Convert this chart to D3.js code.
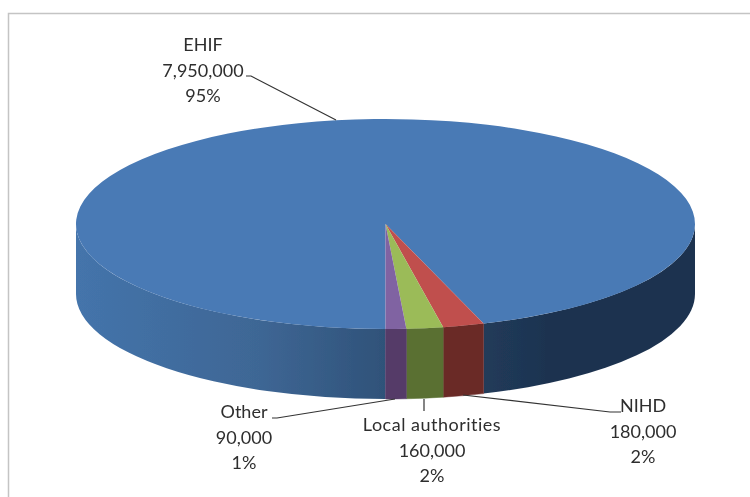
<!DOCTYPE html>
<html>
<head>
<meta charset="utf-8">
<script src="https://cdn.jsdelivr.net/npm/d3@7"></script>
<style>
  html, body { margin: 0; padding: 0; background: #fff; }
  svg { display: block; }
  text { font-family: Lato, "Open Sans", sans-serif; font-size: 18px; fill: #2e2e2e; text-anchor: middle; }
</style>
</head>
<body>
<div id="chart"></div>
<script>
// Chart data
var categories = ["EHIF", "NIHD", "Local authorities", "Other"];
var amounts = [7950000, 180000, 160000, 90000];
var topColors = ["#4a7ab5", "#c0504d", "#9bbb59", "#8064a2"];
var wallColors = ["#2f5279", "#6b2b28", "#5a7033", "#553b68"];

// Label placement: text centre, first line baseline, name tracking, leader line points
var labelSpots = [
  { x: 203, y: 51, track: 0, line: [[246, 76], [251, 76], [336, 120]] },
  { x: 643, y: 412, track: 0, line: [[621, 412], [610, 412], [463, 395]] },
  { x: 432, y: 431, track: 0.5, line: [[424, 399], [424, 411]] },
  { x: 244, y: 418, track: 0, line: [[272, 418], [277, 418], [395, 399]] }
];

var svgWidth = 750;
var svgHeight = 497;

var cx = 385.5;
var cy = 224;
var rx = 309.5;
var ry = 105;
var depth = 70;

var svg = d3.select("#chart")
  .append("svg")
  .attr("width", svgWidth)
  .attr("height", svgHeight);

var defs = svg.append("defs");

// The reference is a slightly soft screenshot
defs.append("filter").attr("id", "soft")
  .attr("x", "-5%").attr("y", "-5%").attr("width", "110%").attr("height", "110%")
  .append("feGaussianBlur").attr("stdDeviation", 0.45);

var textSoft = defs.append("filter").attr("id", "softText")
  .attr("filterUnits", "userSpaceOnUse")
  .attr("x", 0).attr("y", 0).attr("width", svgWidth).attr("height", svgHeight);
textSoft.append("feGaussianBlur").attr("stdDeviation", 0.3);

// Picture frame, only the top and left edges show
svg.append("path")
  .attr("d", "M8.5,497V13.5H750")
  .attr("fill", "none")
  .attr("stroke", "#c4c4c4")
  .attr("stroke-width", 1.5);

// Last slice ends pointing straight down, order runs clockwise
var pie = d3.pie()
  .sort(null)
  .startAngle(-Math.PI)
  .endAngle(Math.PI);

var slices = pie(amounts);

function px(a) { return cx + rx * Math.sin(a); }
function py(a) { return cy - ry * Math.cos(a); }

// Side wall between two angles on the front half of the ellipse
function wallPath(a0, a1) {
  var sweep = a1 > a0 ? 1 : 0;
  return "M" + px(a0) + "," + py(a0)
    + "A" + rx + "," + ry + " 0 0 " + sweep + " " + px(a1) + "," + py(a1)
    + "L" + px(a1) + "," + (py(a1) + depth)
    + "A" + rx + "," + ry + " 0 0 " + (1 - sweep) + " " + px(a0) + "," + (py(a0) + depth)
    + "Z";
}

function wallGradient(id, x0, x1, stops) {
  var g = defs.append("linearGradient")
    .attr("id", id)
    .attr("gradientUnits", "userSpaceOnUse")
    .attr("x1", x0).attr("x2", x1)
    .attr("y1", 0).attr("y2", 0);
  stops.forEach(function(s) {
    g.append("stop").attr("offset", s[0]).attr("stop-color", s[1]);
  });
}

var pieGroup = svg.append("g").attr("filter", "url(#soft)");

var walls = pieGroup.append("g");

// Blue slice wraps round, so its wall is two pieces
wallGradient("wallLeft", px(-Math.PI / 2), cx, [[0, "#4474ab"], [0.6, "#3e6694"], [1, "#2f5279"]]);
wallGradient("wallRight", px(slices[0].endAngle), px(Math.PI / 2), [[0, "#213b5a"], [0.3, "#1d3350"], [1, "#1d3350"]]);

walls.append("path")
  .attr("d", wallPath(-Math.PI / 2, -Math.PI))
  .attr("fill", "url(#wallLeft)");
walls.append("path")
  .attr("d", wallPath(Math.PI / 2, slices[0].endAngle))
  .attr("fill", "url(#wallRight)");

walls.selectAll("path.slice")
  .data(slices.slice(1))
  .enter()
  .append("path")
  .attr("class", "slice")
  .attr("d", d => wallPath(d.startAngle, d.endAngle))
  .attr("fill", d => wallColors[d.index])
  .attr("stroke", d => wallColors[d.index])
  .attr("stroke-width", 0.5);

// Top face is a flat pie squashed into an ellipse
var arc = d3.arc().innerRadius(0).outerRadius(rx);

pieGroup.append("g")
  .attr("transform", `translate(${cx}, ${cy}) scale(1, ${ry / rx})`)
  .selectAll("path")
  .data(slices)
  .enter()
  .append("path")
  .attr("d", arc)
  .attr("fill", d => topColors[d.index]);

// Leader lines
var line = d3.line();

svg.append("g")
  .selectAll("path")
  .data(labelSpots)
  .enter()
  .append("path")
  .attr("d", d => line(d.line))
  .attr("fill", "none")
  .attr("stroke", "#333")
  .attr("stroke-width", 1.2);

// Labels
var total = d3.sum(amounts);
var fmtAmount = d3.format(",");
var fmtPct = d3.format(".0%");

var labels = svg.append("g")
  .attr("filter", "url(#softText)")
  .selectAll("text")
  .data(categories)
  .enter()
  .append("text")
  .attr("x", (d, i) => labelSpots[i].x)
  .attr("y", (d, i) => labelSpots[i].y);

labels.each(function(d, i) {
  var rows = [d, fmtAmount(amounts[i]), fmtPct(amounts[i] / total)];
  d3.select(this).selectAll("tspan")
    .data(rows)
    .enter()
    .append("tspan")
    .attr("x", labelSpots[i].x)
    .attr("dy", (r, k) => k === 0 ? 0 : 25.5)
    .style("letter-spacing", (r, k) => k === 0 ? labelSpots[i].track + "px" : null)
    .text(r => r);
});
</script>
</body>
</html>
